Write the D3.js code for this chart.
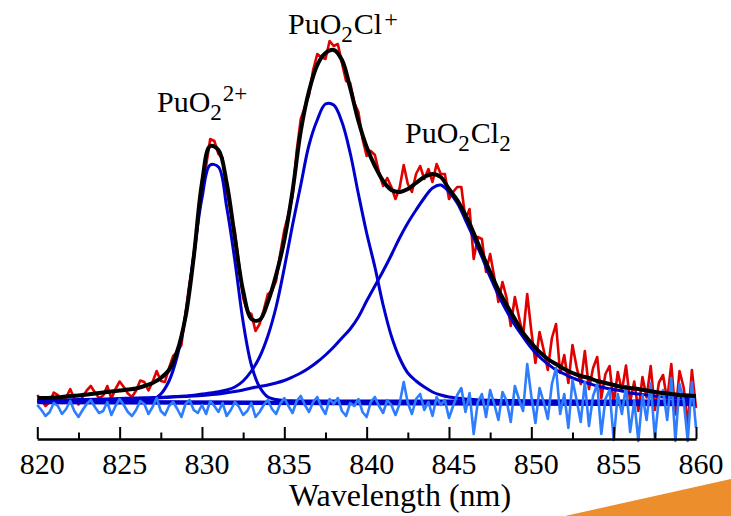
<!DOCTYPE html>
<html>
<head>
<meta charset="utf-8">
<script src="https://cdn.jsdelivr.net/npm/d3@7"></script>
<style>
  html, body { margin: 0; padding: 0; background: #ffffff; }
  svg { display: block; }
  text, tspan { font-family: "Liberation Serif", "Times New Roman", serif; fill: #000; }
</style>
</head>
<body>
<svg id="chart" width="731" height="516"></svg>
<script>
// ---------- DATA ----------
// wavelength grids (nm)
const fitWavelengths = d3.range(0, 81).map(i => 820 + i * 0.5);
const dataWavelengths = d3.range(0, 161).map(i => 820 + i * 0.25);

// total fit (black), absorbance x1e-3 (arbitrary units)
const fitTotal = [
  5,5,5.5,6,7,7.5,8.5,9.5,10.5,11.5,
  12.5,13.5,14.5,17,20,25,33,52,86,146,
  220,257,253,220,165,112,84,83,101,128,
  163,212,272,312,338,350,353,343,315,282,
  256,237,222,213,211,214,220,226,229,226,
  214,203,188,170,150,131,113,98,84,70,
  60,51,44,39,34,30,27,25,22,20,
  18,16,15,14,12.5,11,10,9,8,7.5,
  7
];

// component: PuO2 2+
const compPuO2 = [
  1.5,1.5,1.5,1.5,1.5,1.5,1.5,1.5,1.5,1.5,
  1.5,1.5,1.5,2,3.2,9,22,47,87,148,
  205,238,236,196,142,81,38,16,6,3.5,
  2.5,2.2,2,2,2,2,2,2,2,2,
  2,2,2,2,2,2,2,2,2,2,
  2,2,2,2,2,1.9,1.9,1.9,1.8,1.8,
  1.8,1.8,1.7,1.7,1.7,1.7,1.6,1.6,1.6,1.6,
  1.6,1.5,1.5,1.5,1.5,1.5,1.5,1.5,1.5,1.5,
  1.5
];

// component: PuO2Cl+
const compPuO2Cl = [
  1.5,1.6,1.8,1.8,2,2.1,2.3,2.5,2.7,2.9,
  3.2,3.5,3.9,4.3,4.8,5.3,5.7,6.4,7.1,7.8,
  8.9,9.9,11.4,13,16,22,32,46,67,96,
  135,178,218,258,283,299,298,281,250,209,
  170,136,98,67,45,30,22,16,11,8,
  6,5,4,3.5,3,2.8,2.6,2.5,2.4,2.3,
  2.2,2.2,2.1,2.1,2,2,2,2,2,2,
  2,2,2,2,2,2,2,2,2,2,
  2
];

// component: PuO2Cl2
const compPuO2Cl2 = [
  2.5,2.6,2.8,3,3.2,3.4,3.6,3.8,4,4.2,
  4.5,4.7,5,5.2,5.5,5.7,6,6.3,6.6,7,
  7.5,8.2,9,10.3,11.5,13,15,16.5,18,20,
  22.5,26,30,35,41,48,56,65,74,86,
  102,117,132,148,165,180,193,205,215,218,
  211,200,183,165,146,126,108,92,78,66,
  55,46,39,33,29,25,22,19.5,17,15,
  13.5,12,10,9,8,7,6,5.5,5,4.5,
  4
];

// linear baseline (end points)
const baselineWavelengths = [820, 860];
const baselineValues = [1, -1];

// measured spectrum (red)
const measured = [
  8,3,-3,1,10.5,8,0,5.5,14,4,
  -1.5,6,12.5,17,10.5,5,7.5,17,4.5,14,
  21.5,16,9.5,6,12.5,22.5,21,12.5,21,32,
  22,21,35,47,51,58,90,121,144,178,
  223,237,264,262,249,245,212,191,171,138,
  105,91,89,72,79,93,109,112,122,149,
  173,189,207,252,284,296,308,333,349,346,
  344,362,357,359,340,322,320,300,291,264,
  247,252,248,231,217,225,216,204,215,238,
  219,211,229,237,224,234,221,239,229,229,
  204,211,216,216,184,194,144,166,164,131,
  149,126,101,121,105,77,106,86,67,109,
  72,40,71,53,33,65,79,30,48,20,
  58,36,19,52,14,35,46,5,29,37,
  -1,31,12,37.5,1,21.5,-8,26,5.5,37,
  -7,20.5,28,2.5,39,-11.5,32,15.5,-22.5,33,
  -5
];

// residual (light blue)
const residual = [
  -2,-7,-13,-9,0,-3,-11,-6,2,-8,
  -14,-7,-1,3,-4,-10,-8,1,-12,-3,
  4,-2,-9,-13,-7,2,-1,-11,-4,5,
  -8,-12,-3,1,-6,-14,-1,3,-7,-10,
  -2,-11,2,-3,-9,0,-13,-7,1,-4,
  -12,-8,0,-14,-9,-2,3,-6,-11,-1,
  5,-3,-10,2,7,-2,-9,1,6,-4,
  -11,4,-1,5,-8,-13,0,-3,4,-9,
  -14,1,6,-3,-10,3,-2,-12,-1,21,
  0,-11,4,9,-7,1,-13,6,-2,3,
  -15,-3,8,15,-9,10,-31,1,9,-14,
  13,-1,-17,11,2,-19,17,4,-8,39,
  7,-20,15,1,-16,19,35,-11,9,-25,
  23,3,-19,21,-23,7,19,-31,4,13,
  -37,9,-11,17,-29,2,-38,8,-17,20,
  -35,5,13,-17,25,-38,19,3,-38,21,
  -25
];

const majorTicks = [820, 825, 830, 835, 840, 845, 850, 855, 860];
const minorTicks = [822.5, 827.5, 832.5, 837.5, 842.5, 847.5, 852.5, 857.5];
const tickLabels = ["820", "825", "830", "835", "840", "845", "850", "855", "860"];
const xTitle = "Wavelength (nm)";

// ---------- DRAW ----------
const FONT = '"Liberation Serif", "Times New Roman", serif';
const svg = d3.select("#chart");
const x = d3.scaleLinear().domain([820, 860]).range([37.3, 696]);
const y = d3.scaleLinear().domain([-35, 390]).range([438, 13]);

// decorative orange wedge bottom-right
svg.append("polygon")
  .attr("points", "565,516 731,479 731,516")
  .attr("fill", "#ec8e2b");

const zip = (xs, ys) => xs.map((v, i) => [v, ys[i]]);
const lineLin = d3.line().x(d => x(d[0])).y(d => y(d[1]));
const lineSmooth = d3.line().x(d => x(d[0])).y(d => y(d[1])).curve(d3.curveCatmullRom.alpha(0.5));

const g = svg.append("g");

// measured data
g.append("path").datum(zip(dataWavelengths, measured))
  .attr("d", lineLin).attr("fill", "none")
  .attr("stroke", "#e00000").attr("stroke-width", 2.6).attr("stroke-linejoin", "round");

// components
[compPuO2, compPuO2Cl, compPuO2Cl2].forEach(c => {
  g.append("path").datum(zip(fitWavelengths, c))
    .attr("d", lineSmooth).attr("fill", "none")
    .attr("stroke", "#0000cc").attr("stroke-width", 3).attr("stroke-linejoin", "round");
});

// baseline
g.append("path").datum(zip(baselineWavelengths, baselineValues))
  .attr("d", lineLin).attr("fill", "none")
  .attr("stroke", "#0000cc").attr("stroke-width", 4.5);

// residual
g.append("path").datum(zip(dataWavelengths, residual))
  .attr("d", lineLin).attr("fill", "none")
  .attr("stroke", "#2f7dff").attr("stroke-width", 2.6).attr("stroke-linejoin", "round");

// total fit
g.append("path").datum(zip(fitWavelengths, fitTotal))
  .attr("d", lineSmooth).attr("fill", "none")
  .attr("stroke", "#000").attr("stroke-width", 4).attr("stroke-linejoin", "round");

// axis
const axisY = 439;
const axMajor = svg.append("g").attr("transform", `translate(0,${axisY})`)
  .call(d3.axisBottom(x).tickValues(majorTicks).tickSize(-12).tickSizeOuter(0).tickFormat(""));
const axMinor = svg.append("g").attr("transform", `translate(0,${axisY})`)
  .call(d3.axisBottom(x).tickValues(minorTicks).tickSize(-6.5).tickSizeOuter(0).tickFormat(""));
[axMajor, axMinor].forEach(a => {
  a.select(".domain").attr("stroke", "#000").attr("stroke-width", 2.2);
  a.selectAll(".tick line").attr("stroke", "#000").attr("stroke-width", 2);
});

svg.append("g").attr("font-family", FONT).selectAll("text").data(majorTicks).join("text")
  .attr("x", d => x(d) + 5)
  .attr("y", 474)
  .attr("text-anchor", "middle")
  .attr("font-family", FONT)
  .attr("font-size", 30)
  .text((d, i) => tickLabels[i]);

svg.append("text").attr("x", 400).attr("y", 506)
  .attr("font-family", FONT)
  .attr("text-anchor", "middle").attr("font-size", 32).text(xTitle);

// species labels
function label(x0, y0, parts) {
  const t = svg.append("text").attr("x", x0).attr("y", y0)
    .attr("font-family", FONT).attr("font-size", 30);
  parts.forEach(p => {
    const s = t.append("tspan").text(p.t);
    if (p.size) s.attr("font-size", p.size);
    if (p.dy) s.attr("dy", p.dy);
    if (p.dx) s.attr("dx", p.dx);
  });
}
label(288, 34, [{t: "PuO"}, {t: "2", size: 23, dy: 8}, {t: "Cl", dy: -8, dx: 1}, {t: "+", size: 24, dy: -7, dx: 2}]);
label(157, 112, [{t: "PuO"}, {t: "2", size: 23, dy: 8}, {t: "2+", size: 23, dy: -19, dx: 1}]);
label(405, 143, [{t: "PuO"}, {t: "2", size: 23, dy: 8}, {t: "Cl", dy: -8, dx: 1}, {t: "2", size: 23, dy: 8}]);
</script>
</body>
</html>
